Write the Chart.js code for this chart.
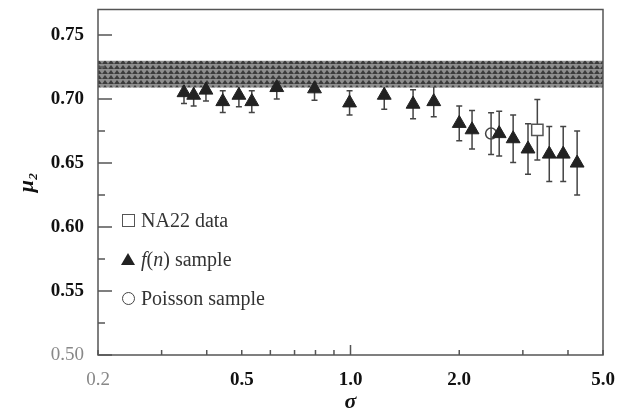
<!DOCTYPE html>
<html>
<head>
<meta charset="utf-8">
<script src="https://cdn.jsdelivr.net/npm/chart.js@4.4.1/dist/chart.umd.min.js"></script>
<style>
  body { margin: 0; background: #fff; }
  #wrap { position: relative; width: 628px; height: 418px; }
  #legend { position: absolute; left: 121px; top: 208px; font-family: "Liberation Serif", "Times New Roman", serif; font-size: 20px; color: #333; }
  .row { position: absolute; left: 0; white-space: nowrap; height: 24px; line-height: 24px; }
  .ico { position: absolute; left: 0; }
  .txt { position: absolute; left: 20px; top: 0; }
  .sq { top: 6px; width: 11px; height: 11px; border: 1.5px solid #555; background: #fff; left: 1px; }
  .tri { top: 6px; width: 0; height: 0; border-left: 7px solid transparent; border-right: 7px solid transparent; border-bottom: 12px solid #222; }
  .cir { top: 6px; width: 11px; height: 11px; border: 1.5px solid #444; border-radius: 50%; left: 1px; }
</style>
</head>
<body>
<div id="wrap">
  <canvas id="chart"></canvas>
  <div id="legend"></div>
</div>
<script>
// sigma (x) and mu_2 (y)
const xTicks = [0.2, 0.3, 0.4, 0.5, 0.6, 0.7, 0.8, 0.9, 1, 2, 3, 4, 5];
const xLabels = [0.2, 0.5, 1, 2, 5];
const yTicks = [0.50, 0.525, 0.55, 0.575, 0.60, 0.625, 0.65, 0.675, 0.70, 0.725, 0.75];
const yLabels = [0.50, 0.55, 0.60, 0.65, 0.70, 0.75];

// shaded band of overlapping sample points
const bandSigma = [0.2, 5.0];
const bandHigh = [0.730, 0.730];
const bandLow = [0.709, 0.709];

const naSigma = [3.29];
const naMu = [0.676];
const naErr = [0.0237];

const fnSigma = [0.346, 0.368, 0.398, 0.443, 0.491, 0.533, 0.625, 0.795, 0.994, 1.24,
                 1.49, 1.70, 2.00, 2.17, 2.58, 2.82, 3.10, 3.55, 3.88, 4.24];
const fnMu = [0.705, 0.703, 0.707, 0.698, 0.703, 0.698, 0.709, 0.708, 0.697, 0.703,
              0.696, 0.698, 0.681, 0.676, 0.673, 0.669, 0.661, 0.657, 0.657, 0.650];
const fnErr = [0.0085, 0.0085, 0.0085, 0.0085, 0.009, 0.0085, 0.009, 0.009, 0.0095, 0.011,
               0.0113, 0.0118, 0.0135, 0.015, 0.0175, 0.0186, 0.0198, 0.0215, 0.0215, 0.025];

const poSigma = [2.45];
const poMu = [0.673];
const poErr = [0.0163];

const serif = '"Liberation Serif", "Times New Roman", serif';

function pts(xs, ys) {
    return xs.map(function (x, i) { return { x: x, y: ys[i] }; });
}

function bandPattern() {
    const c = document.createElement('canvas');
    c.width = 6; c.height = 5;
    const g = c.getContext('2d');
    g.fillStyle = '#8e8e8e';
    g.fillRect(0, 0, 6, 5);
    g.fillStyle = '#3c3c3c';
    g.beginPath();
    g.moveTo(3, 0); g.lineTo(6, 4); g.lineTo(0, 4);
    g.fill();
    return g.createPattern(c, 'repeat');
}

// error bars, drawn under the markers
const errorBars = {
    id: 'errorBars',
    beforeDatasetsDraw(chart) {
        const ctx = chart.ctx;
        const xs = chart.scales.x, ys = chart.scales.y;
        ctx.save();
        ctx.strokeStyle = '#444';
        ctx.lineWidth = 1.5;
        chart.data.datasets.forEach(function (ds) {
            if (!ds.errors) return;
            ds.data.forEach(function (p, i) {
                const px = xs.getPixelForValue(p.x);
                const top = ys.getPixelForValue(p.y + ds.errors[i]);
                const bot = ys.getPixelForValue(p.y - ds.errors[i]);
                ctx.beginPath();
                ctx.moveTo(px, top); ctx.lineTo(px, bot);
                ctx.moveTo(px - 3, top); ctx.lineTo(px + 3, top);
                ctx.moveTo(px - 3, bot); ctx.lineTo(px + 3, bot);
                ctx.stroke();
            });
        });
        ctx.restore();
    }
};

// frame and inward ticks
const frame = {
    id: 'frame',
    afterDraw(chart) {
        const ctx = chart.ctx, a = chart.chartArea;
        const xs = chart.scales.x, ys = chart.scales.y;
        ctx.save();
        ctx.strokeStyle = '#555';
        ctx.lineWidth = 1.5;
        ctx.strokeRect(a.left, a.top, a.right - a.left, a.bottom - a.top);
        ctx.beginPath();
        xTicks.forEach(function (v) {
            const px = xs.getPixelForValue(v);
            const len = v === 1 ? 10 : 5;
            ctx.moveTo(px, a.bottom); ctx.lineTo(px, a.bottom - len);
        });
        yTicks.forEach(function (v) {
            const py = ys.getPixelForValue(v);
            const len = yLabels.indexOf(v) >= 0 ? 14 : 7;
            ctx.moveTo(a.left, py); ctx.lineTo(a.left + len, py);
        });
        ctx.stroke();
        ctx.restore();
    }
};

const ctx = document.getElementById('chart').getContext('2d');

const myChart = new Chart(ctx, {
    type: 'scatter',
    data: {
        datasets: [
            {
                label: 'band high',
                data: pts(bandSigma, bandHigh),
                showLine: true,
                borderWidth: 0,
                pointRadius: 0,
                backgroundColor: bandPattern(),
                fill: 1,
                order: 10
            },
            {
                label: 'band low',
                data: pts(bandSigma, bandLow),
                showLine: true,
                borderWidth: 0,
                pointRadius: 0,
                fill: false,
                order: 10
            },
            {
                label: 'NA22 data',
                data: pts(naSigma, naMu),
                errors: naErr,
                pointStyle: 'rect',
                pointRadius: 8,
                borderColor: '#555',
                backgroundColor: '#fff',
                borderWidth: 1.5,
                order: 1
            },
            {
                label: 'f(n) sample',
                data: pts(fnSigma, fnMu),
                errors: fnErr,
                pointStyle: 'triangle',
                pointRadius: 8,
                borderColor: '#222',
                backgroundColor: '#222',
                borderWidth: 1,
                order: 2
            },
            {
                label: 'Poisson sample',
                data: pts(poSigma, poMu),
                errors: poErr,
                pointStyle: 'circle',
                pointRadius: 5.5,
                borderColor: '#444',
                backgroundColor: 'rgba(255,255,255,0)',
                borderWidth: 1.5,
                order: 3
            }
        ]
    },
    options: {
        responsive: true,
        maintainAspectRatio: false,
        animation: false,
        layout: { padding: { top: 4, right: 25, left: 0, bottom: 0 } },
        plugins: {
            legend: { display: false },
            tooltip: { enabled: false }
        },
        scales: {
            x: {
                type: 'logarithmic',
                min: 0.2,
                max: 5,
                afterBuildTicks: function (scale) {
                    scale.ticks = xTicks.map(function (v) { return { value: v }; });
                },
                afterFit: function (scale) {
                    scale.height = 63;
                    scale.paddingLeft = 0;
                    scale.paddingRight = 0;
                },
                grid: { display: false, drawTicks: false },
                border: { display: false },
                ticks: {
                    autoSkip: false,
                    maxRotation: 0,
                    padding: 14,
                    color: function (c) { return c.tick && c.tick.value === 0.2 ? '#888' : '#111'; },
                    font: function (c) {
                        const light = c.tick && c.tick.value === 0.2;
                        return { family: serif, size: 19, weight: light ? 'normal' : 'bold' };
                    },
                    callback: function (v) {
                        return xLabels.indexOf(v) >= 0 ? v.toFixed(1) : '';
                    }
                },
                title: {
                    display: true,
                    text: 'σ',
                    color: '#111',
                    font: { family: serif, size: 22, weight: 'bold', style: 'italic' },
                    padding: { top: 0, bottom: 2 }
                }
            },
            y: {
                min: 0.5,
                max: 0.77,
                afterBuildTicks: function (scale) {
                    scale.ticks = yTicks.map(function (v) { return { value: v }; });
                },
                afterFit: function (scale) {
                    scale.width = 98;
                    scale.paddingTop = 0;
                    scale.paddingBottom = 0;
                },
                grid: { display: false, drawTicks: false },
                border: { display: false },
                ticks: {
                    autoSkip: false,
                    padding: 14,
                    color: function (c) { return c.tick && c.tick.value === 0.5 ? '#888' : '#111'; },
                    font: function (c) {
                        const light = c.tick && c.tick.value === 0.5;
                        return { family: serif, size: 19, weight: light ? 'normal' : 'bold' };
                    },
                    callback: function (v) {
                        return yLabels.indexOf(v) >= 0 ? v.toFixed(2) : '';
                    }
                },
                title: {
                    display: true,
                    text: 'μ₂',
                    color: '#111',
                    font: { family: serif, size: 22, weight: 'bold', style: 'italic' },
                    padding: { top: 14, bottom: 0 }
                }
            }
        }
    },
    plugins: [errorBars, frame]
});

// legend inside the plot
const legendRows = [
    { icon: 'sq', html: 'NA22 data', top: 0 },
    { icon: 'tri', html: '<i>f</i>(<i>n</i>) sample', top: 39 },
    { icon: 'cir', html: 'Poisson sample', top: 78 }
];
const legend = document.getElementById('legend');
legendRows.forEach(function (r) {
    const row = document.createElement('div');
    row.className = 'row';
    row.style.top = r.top + 'px';
    row.innerHTML = '<div class="ico ' + r.icon + '"></div><div class="txt">' + r.html + '</div>';
    legend.appendChild(row);
});
</script>
</body>
</html>
